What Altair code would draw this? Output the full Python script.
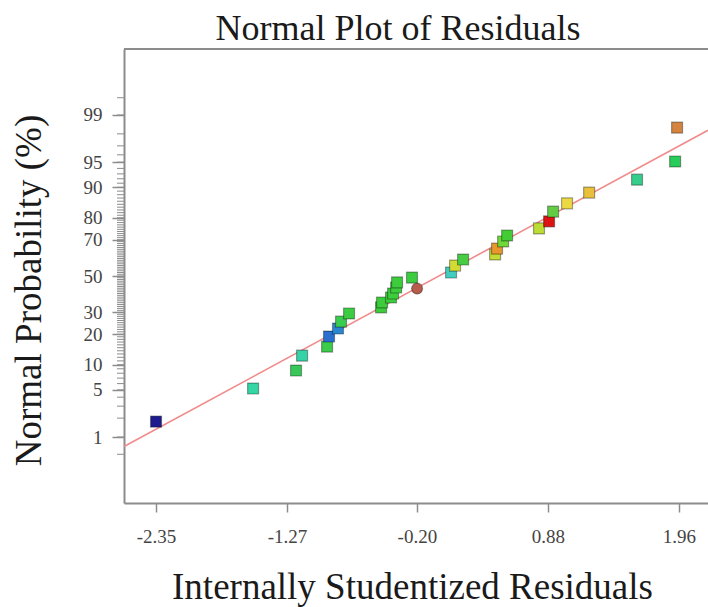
import altair as alt
import pandas as pd
from statistics import NormalDist

# ---- data ----
residuals = [-2.35, -1.55, -1.196, -1.146, -0.94, -0.924, -0.85, -0.825, -0.759,
             -0.495, -0.487, -0.413, -0.396, -0.371, -0.363, -0.24, -0.198,
             0.082, 0.115, 0.181, 0.445, 0.461, 0.511, 0.544, 0.807, 0.89,
             0.923, 1.038, 1.22, 1.615, 1.929, 1.945]
probability = [1.77, 5.2, 8.6, 12.5, 15.4, 19.1, 22.4, 25.5, 29.4,
               32.5, 35.1, 37.8, 40.0, 43.4, 46.3, 49.1, 42.8,
               52.0, 56.0, 59.4, 62.2, 65.4, 69.1, 72.1, 75.4, 78.5,
               82.4, 85.3, 88.6, 91.8, 95.1, 98.4]
point_colors = ["#1c1c8e", "#34d6a4", "#38c85a", "#36d2a8", "#3ccc4a", "#2a6fd0",
                "#2a86d0", "#3acc50", "#3ccc44", "#3ccc3c", "#3ccc3c", "#3ccc3c",
                "#3ccc3c", "#3ccc3c", "#3ccc3c", "#3ccc40", "#b85c4c",
                "#44ccc0", "#d0dc34", "#48cc44", "#c4dc34", "#e8962e", "#70d838",
                "#44cc36", "#bcdc34", "#dc1414", "#64cc44", "#ecd844", "#e8c03c",
                "#36cc8c", "#28cc58", "#d4843e"]
point_shapes = ["square"] * 16 + ["circle"] + ["square"] * 15

x_ticks = [-2.35, -1.27, -0.20, 0.88, 1.96]
y_tick_percents = [1, 5, 10, 20, 30, 50, 70, 80, 90, 95, 99]
minor_percents = [0.5] + list(range(1, 100)) + [99.5]

fit_line_x = [-2.614, 2.2]
fit_line_p = [0.687, 98.24]

chart_title = "Normal Plot of Residuals"

nd = NormalDist()
z = lambda p: nd.inv_cdf(p / 100.0)

pts = pd.DataFrame({"residual": residuals, "prob": probability,
                    "z": [z(p) for p in probability],
                    "color": point_colors, "shape": point_shapes})
line_df = pd.DataFrame({"residual": fit_line_x, "z": [z(p) for p in fit_line_p]})
minor_df = pd.DataFrame({"z": [z(p) for p in minor_percents]})
title_df = pd.DataFrame({"t": [chart_title]})
y_tick_values = [z(p) for p in y_tick_percents]

X_DOMAIN = [-2.614, 2.2]
Y_DOMAIN = [-3.28, 3.28]
SERIF = "Liberation Serif"

xscale = alt.Scale(domain=X_DOMAIN, nice=False, zero=False)
yscale = alt.Scale(domain=Y_DOMAIN, nice=False, zero=False)

x_axis = alt.Axis(values=x_ticks,
                  labelExpr="(datum.value < 0 ? '-' : '') + format(abs(datum.value), '.2f')",
                  grid=False,
                  labelFont=SERIF, labelFontSize=19, labelColor="#444",
                  tickSize=9, tickColor="#8c8c8c", tickWidth=1.5,
                  domainColor="#8c8c8c", domainWidth=2, labelPadding=15,
                  title="Internally Studentized Residuals",
                  titleFont=SERIF, titleFontSize=37, titleFontWeight="normal",
                  titleColor="#1a1a1a", titleX=288, titleY=95,
                  titleAlign="center", titleBaseline="alphabetic")
y_axis = alt.Axis(values=y_tick_values,
                  labelExpr="format(cumulativeNormal(datum.value)*100, '.0f')",
                  grid=False, labelFont=SERIF, labelFontSize=19, labelColor="#444",
                  tickSize=12, tickColor="#8c8c8c", tickWidth=1.5,
                  domainColor="#8c8c8c", domainWidth=2, labelPadding=10,
                  title="Normal Probability (%)",
                  titleFont=SERIF, titleFontSize=37, titleFontWeight="normal",
                  titleColor="#1a1a1a", titleAngle=270, titleX=-84, titleY=241,
                  titleAlign="center", titleBaseline="alphabetic")

X = alt.X("residual:Q", scale=xscale, axis=x_axis)
Y = alt.Y("z:Q", scale=yscale, axis=y_axis)

fit = alt.Chart(line_df).mark_line(color="#f08c8c", strokeWidth=1.6).encode(x=X, y=Y)

minor = alt.Chart(minor_df).mark_rule(color="#8c8c8c", strokeWidth=1).encode(
    y=Y, x=alt.value(-7), x2=alt.value(0))

top_border = alt.Chart(line_df).mark_rule(color="#8c8c8c", strokeWidth=2).encode(
    y=alt.value(0), x=alt.value(0), x2=alt.value(584))

title_mark = alt.Chart(title_df).mark_text(
    font=SERIF, fontSize=36, color="#1a1a1a", align="center",
    baseline="alphabetic").encode(
    text="t:N", x=alt.value(274), y=alt.value(-9))

points = alt.Chart(pts).mark_point(filled=True, size=120, opacity=1,
                                   stroke="#000", strokeOpacity=0.35,
                                   strokeWidth=1.2).encode(
    x=X, y=Y,
    fill=alt.Fill("color:N", scale=None),
    shape=alt.Shape("shape:N", scale=None))

chart = alt.layer(fit, minor, top_border, points, title_mark).properties(
    width=584, height=454,
    autosize=alt.AutoSizeParams(type="none"),
    padding={"left": 124, "top": 49, "right": 0, "bottom": 104},
).configure_view(stroke=None).configure(background="white")

chart.save("out.html", embed_options={"renderer": "svg", "actions": False})
